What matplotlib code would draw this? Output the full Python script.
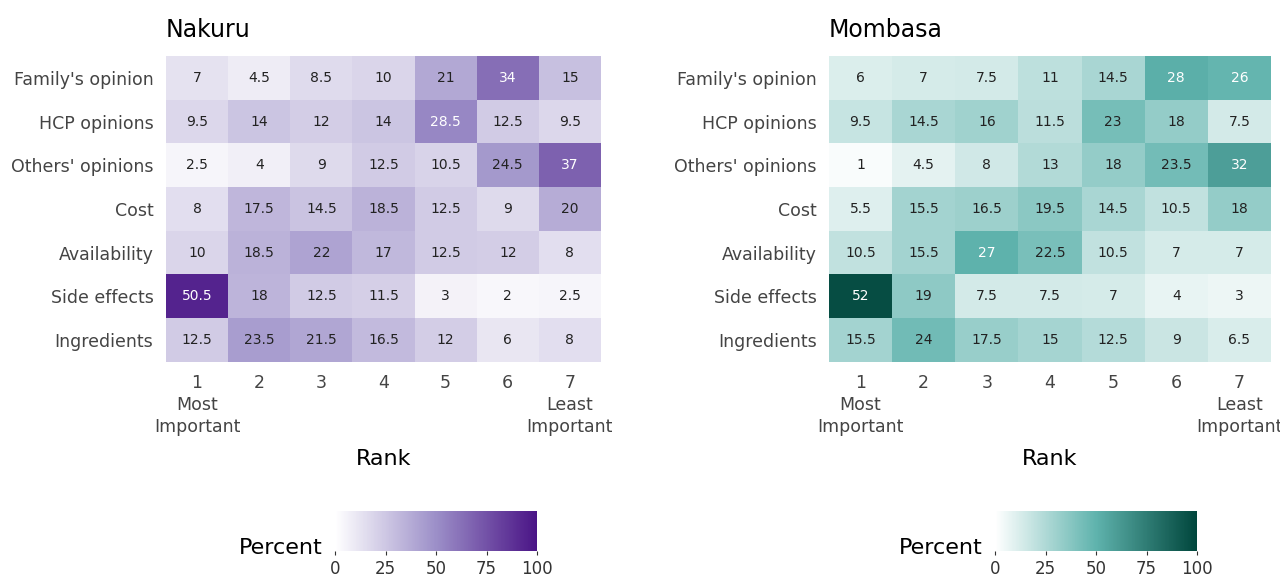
import matplotlib
matplotlib.use("Agg")
import matplotlib.pyplot as plt
import numpy as np
from matplotlib.colors import LinearSegmentedColormap, Normalize
from matplotlib.cm import ScalarMappable

factors = ["Family's opinion", "HCP opinions", "Others' opinions", "Cost", "Availability", "Side effects", "Ingredients"]
ranks = ["1\nMost\nImportant", "2", "3", "4", "5", "6", "7\nLeast\nImportant"]
nakuru = [[7, 4.5, 8.5, 10, 21, 34, 15],
          [9.5, 14, 12, 14, 28.5, 12.5, 9.5],
          [2.5, 4, 9, 12.5, 10.5, 24.5, 37],
          [8, 17.5, 14.5, 18.5, 12.5, 9, 20],
          [10, 18.5, 22, 17, 12.5, 12, 8],
          [50.5, 18, 12.5, 11.5, 3, 2, 2.5],
          [12.5, 23.5, 21.5, 16.5, 12, 6, 8]]
mombasa = [[6, 7, 7.5, 11, 14.5, 28, 26],
           [9.5, 14.5, 16, 11.5, 23, 18, 7.5],
           [1, 4.5, 8, 13, 18, 23.5, 32],
           [5.5, 15.5, 16.5, 19.5, 14.5, 10.5, 18],
           [10.5, 15.5, 27, 22.5, 10.5, 7, 7],
           [52, 19, 7.5, 7.5, 7, 4, 3],
           [15.5, 24, 17.5, 15, 12.5, 9, 6.5]]

W, H = 1280, 585
fig = plt.figure(figsize=(W/100, H/100), dpi=100)
purple = LinearSegmentedColormap.from_list("p", ["#ffffff", "#9c8fc8", "#4a1486"])
teal = LinearSegmentedColormap.from_list("t", ["#ffffff", "#5fb3ad", "#00463c"])

def panel(x0, x1, data, cmap, title, cbx):
    ax = fig.add_axes([x0/W, 1-362/H, (x1-x0)/W, 306/H])
    d = np.array(data, dtype=float)
    ax.imshow(d, cmap=cmap, norm=Normalize(0, 54), aspect="auto")
    for i in range(7):
        for j in range(7):
            v = d[i, j]
            ax.text(j, i, f"{v:g}", ha="center", va="center", fontsize=10,
                    color="white" if v > 25.5 else "#222222")
    ax.set_xticks(range(7))
    ax.set_xticklabels(ranks, fontsize=12.5, color="#444444", linespacing=1.25)
    ax.set_yticks(range(7))
    ax.set_yticklabels(factors, fontsize=12.5, color="#444444")
    ax.tick_params(length=0, pad=9)
    for s in ax.spines.values():
        s.set_visible(False)
    ax.set_xlabel("Rank", fontsize=16, labelpad=10)
    ax.set_title(title, fontsize=17, loc="left", x=-0.0, pad=14)
    cax = fig.add_axes([cbx/W, 1-551/H, 202/W, 40/H])
    cb = fig.colorbar(ScalarMappable(Normalize(0, 100), cmap), cax=cax, orientation="horizontal")
    cb.set_ticks([0, 25, 50, 75, 100])
    cb.ax.tick_params(labelsize=12, length=3, colors="#333333")
    cb.outline.set_visible(False)
    fig.text((cbx-12)/W, 1-548/H, "Percent", fontsize=16, ha="right", va="center")

panel(166, 601, nakuru, purple, "Nakuru", 335)
panel(829, 1271, mombasa, teal, "Mombasa", 995)
fig.savefig("out.png", dpi=100)
